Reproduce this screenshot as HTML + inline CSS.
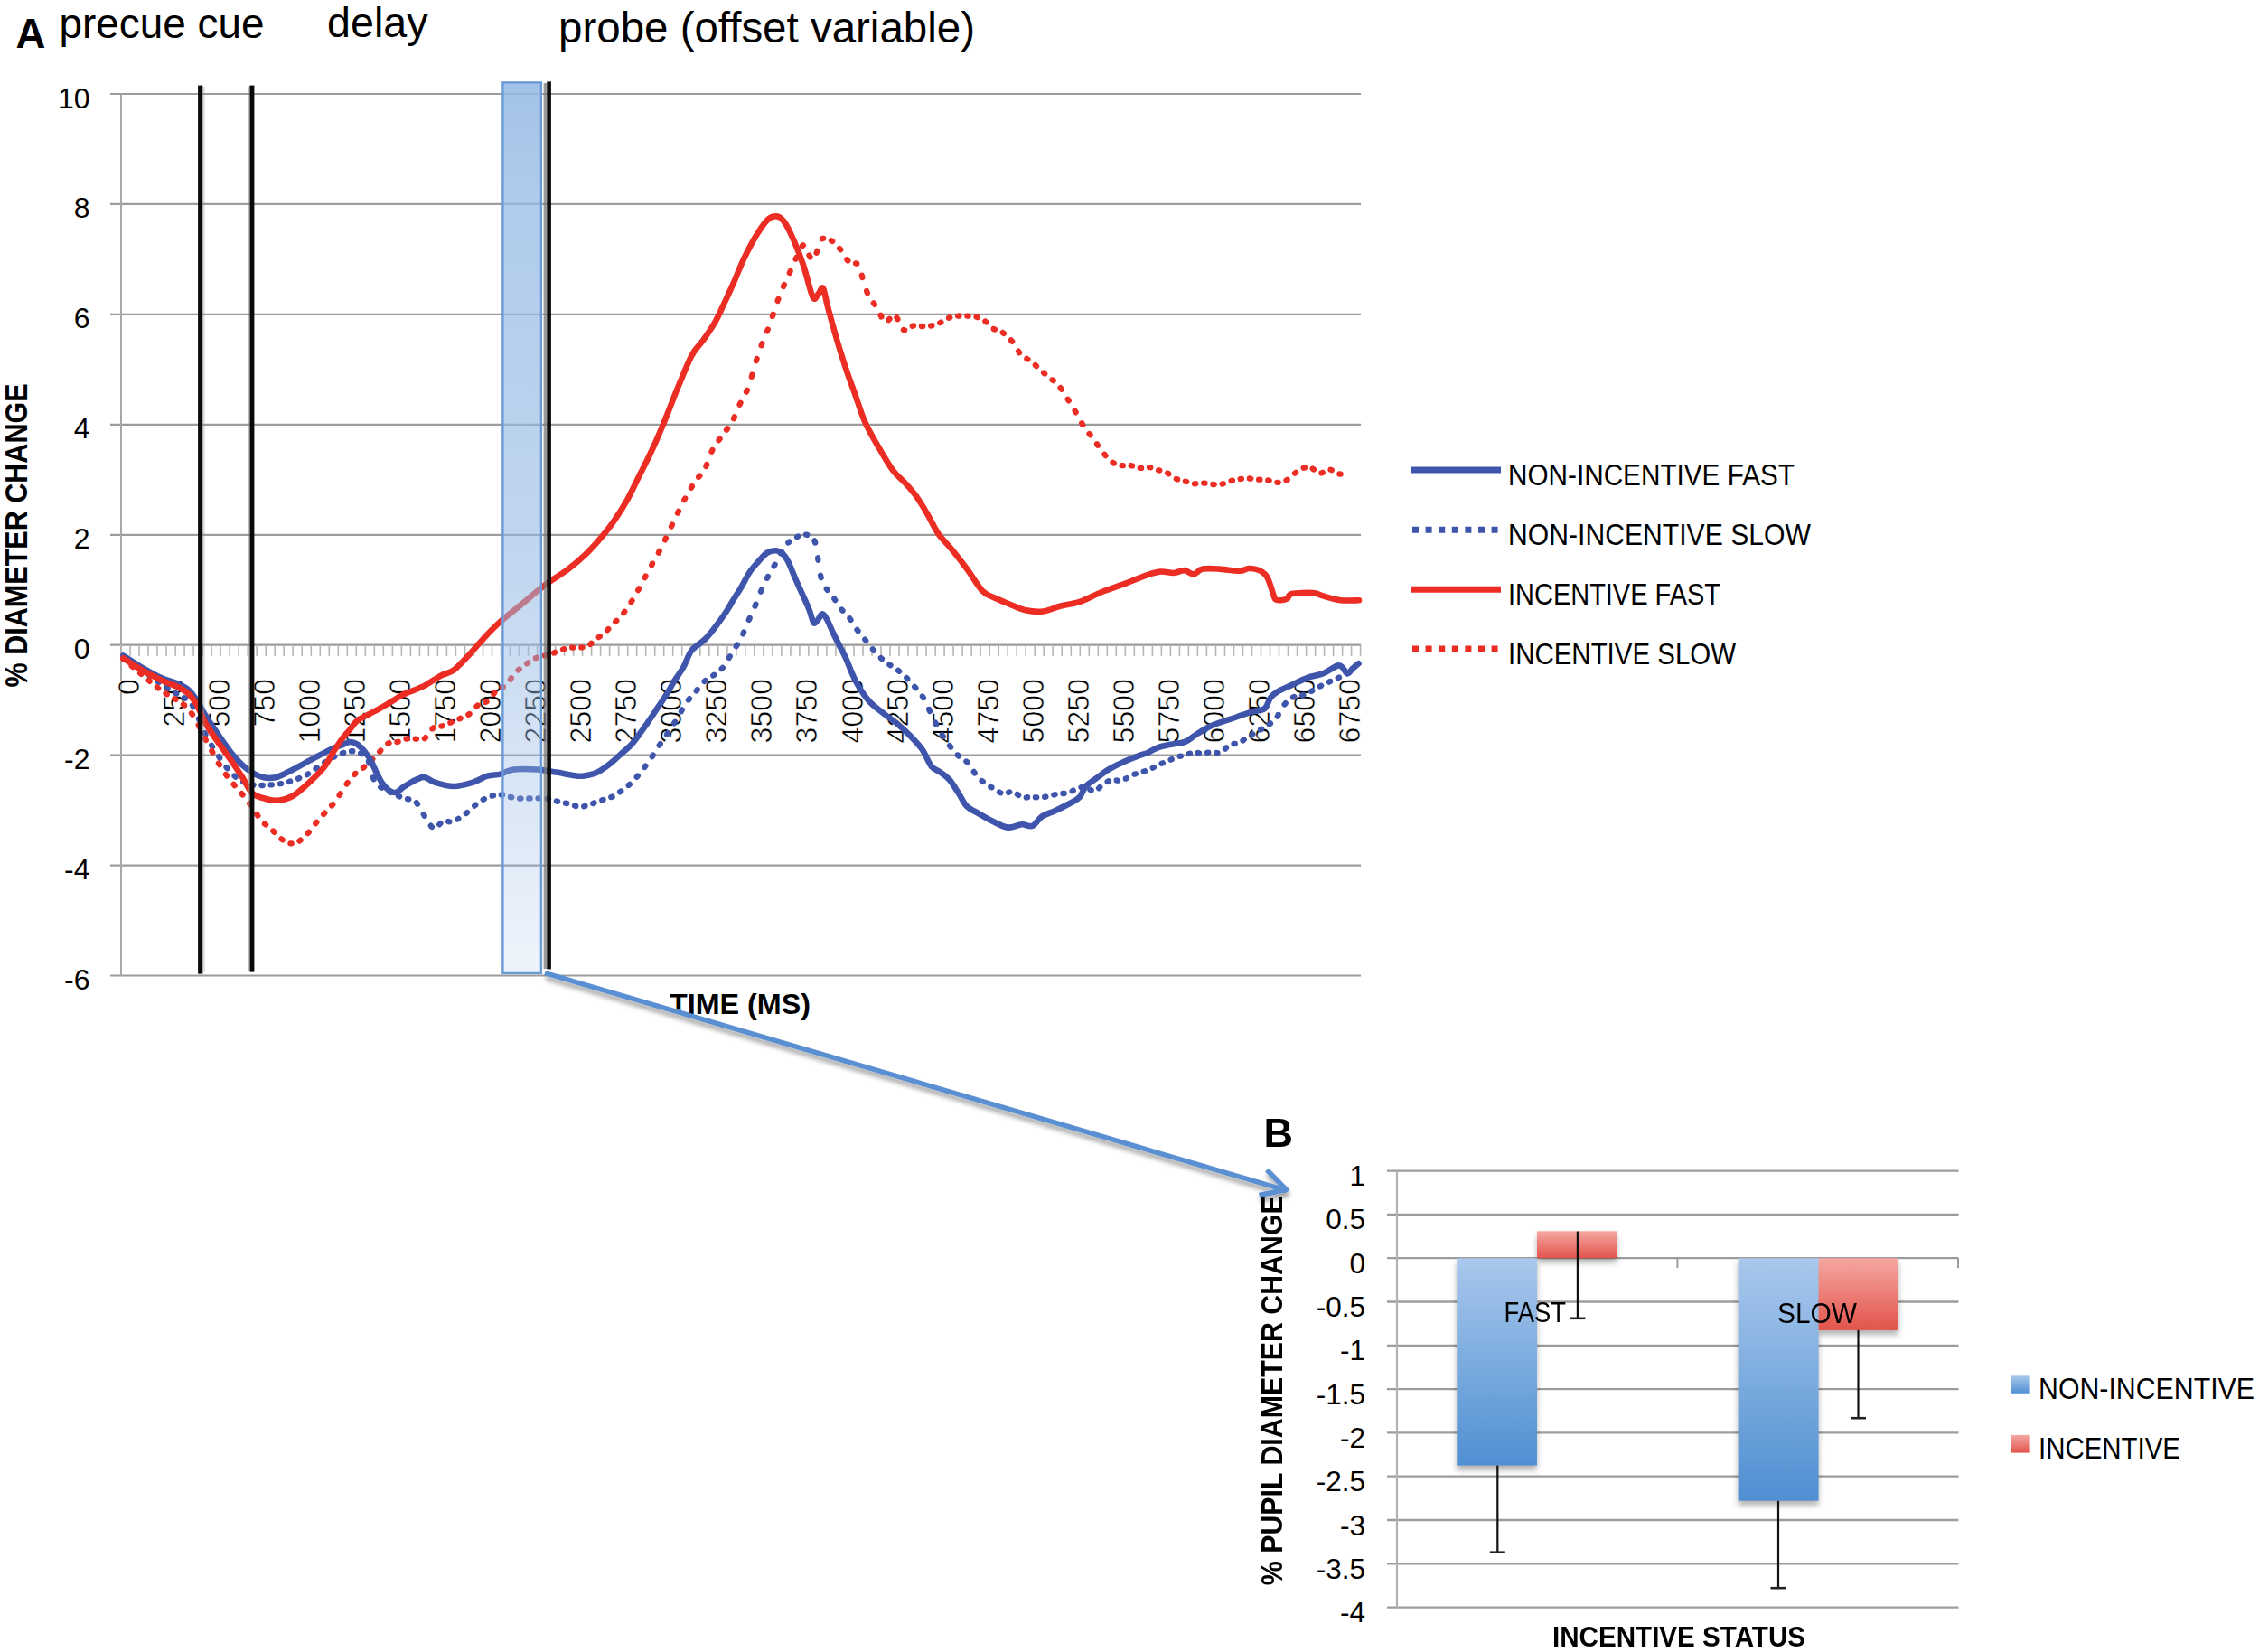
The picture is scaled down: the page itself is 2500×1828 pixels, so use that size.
<!DOCTYPE html><html><head><meta charset="utf-8"><style>html,body{margin:0;padding:0;background:#fff;overflow:hidden;width:2500px;height:1828px;}svg{display:block;}text{font-family:'Liberation Sans', Arial, sans-serif;fill:#000;}</style></head><body>
<svg width="2500" height="1828" viewBox="0 0 2500 1828">
<defs>
<linearGradient id="rectg" x1="0" y1="0" x2="0" y2="1">
<stop offset="0" stop-color="#96bae5" stop-opacity="0.88"/>
<stop offset="0.12" stop-color="#96bae5" stop-opacity="0.76"/>
<stop offset="0.55" stop-color="#96bae5" stop-opacity="0.58"/>
<stop offset="1" stop-color="#96bae5" stop-opacity="0.16"/>
</linearGradient>
<linearGradient id="bblue" x1="0" y1="0" x2="0" y2="1">
<stop offset="0" stop-color="#a9c8ec"/>
<stop offset="1" stop-color="#4f8fd2"/>
</linearGradient>
<linearGradient id="bred" x1="0" y1="0" x2="0" y2="1">
<stop offset="0" stop-color="#f5a7a2"/>
<stop offset="1" stop-color="#e2544b"/>
</linearGradient>
<filter id="shadow" x="-20%" y="-20%" width="140%" height="140%">
<feDropShadow dx="0" dy="5" stdDeviation="3" flood-color="#000" flood-opacity="0.28"/>
</filter>
<filter id="blur3" x="-20%" y="-20%" width="140%" height="140%"><feGaussianBlur stdDeviation="3"/></filter>
<filter id="ashadow" x="-5%" y="-50%" width="110%" height="200%">
<feDropShadow dx="1" dy="5" stdDeviation="2.5" flood-color="#000" flood-opacity="0.35"/>
</filter>
</defs>
<rect width="2500" height="1828" fill="#fff"/>
<line x1="122" y1="104.0" x2="1506.0" y2="104.0" stroke="#9c9c9c" stroke-width="2.2"/>
<line x1="122" y1="225.9" x2="1506.0" y2="225.9" stroke="#9c9c9c" stroke-width="2.2"/>
<line x1="122" y1="347.9" x2="1506.0" y2="347.9" stroke="#9c9c9c" stroke-width="2.2"/>
<line x1="122" y1="469.8" x2="1506.0" y2="469.8" stroke="#9c9c9c" stroke-width="2.2"/>
<line x1="122" y1="591.8" x2="1506.0" y2="591.8" stroke="#9c9c9c" stroke-width="2.2"/>
<line x1="122" y1="713.7" x2="1506.0" y2="713.7" stroke="#9c9c9c" stroke-width="2.2"/>
<line x1="122" y1="835.6" x2="1506.0" y2="835.6" stroke="#9c9c9c" stroke-width="2.2"/>
<line x1="122" y1="957.6" x2="1506.0" y2="957.6" stroke="#9c9c9c" stroke-width="2.2"/>
<line x1="122" y1="1079.5" x2="1506.0" y2="1079.5" stroke="#9c9c9c" stroke-width="2.2"/>
<line x1="134.0" y1="104.0" x2="134.0" y2="1079.5" stroke="#a8a8a8" stroke-width="2"/>
<path d="M134.0,713.7V725.7M144.0,713.7V725.7M154.0,713.7V725.7M164.0,713.7V725.7M174.0,713.7V725.7M184.1,713.7V725.7M194.1,713.7V725.7M204.1,713.7V725.7M214.1,713.7V725.7M224.1,713.7V725.7M234.1,713.7V725.7M244.1,713.7V725.7M254.1,713.7V725.7M264.2,713.7V725.7M274.2,713.7V725.7M284.2,713.7V725.7M294.2,713.7V725.7M304.2,713.7V725.7M314.2,713.7V725.7M324.2,713.7V725.7M334.2,713.7V725.7M344.3,713.7V725.7M354.3,713.7V725.7M364.3,713.7V725.7M374.3,713.7V725.7M384.3,713.7V725.7M394.3,713.7V725.7M404.3,713.7V725.7M414.3,713.7V725.7M424.3,713.7V725.7M434.4,713.7V725.7M444.4,713.7V725.7M454.4,713.7V725.7M464.4,713.7V725.7M474.4,713.7V725.7M484.4,713.7V725.7M494.4,713.7V725.7M504.4,713.7V725.7M514.5,713.7V725.7M524.5,713.7V725.7M534.5,713.7V725.7M544.5,713.7V725.7M554.5,713.7V725.7M564.5,713.7V725.7M574.5,713.7V725.7M584.5,713.7V725.7M594.6,713.7V725.7M604.6,713.7V725.7M614.6,713.7V725.7M624.6,713.7V725.7M634.6,713.7V725.7M644.6,713.7V725.7M654.6,713.7V725.7M664.6,713.7V725.7M674.6,713.7V725.7M684.7,713.7V725.7M694.7,713.7V725.7M704.7,713.7V725.7M714.7,713.7V725.7M724.7,713.7V725.7M734.7,713.7V725.7M744.7,713.7V725.7M754.7,713.7V725.7M764.8,713.7V725.7M774.8,713.7V725.7M784.8,713.7V725.7M794.8,713.7V725.7M804.8,713.7V725.7M814.8,713.7V725.7M824.8,713.7V725.7M834.8,713.7V725.7M844.9,713.7V725.7M854.9,713.7V725.7M864.9,713.7V725.7M874.9,713.7V725.7M884.9,713.7V725.7M894.9,713.7V725.7M904.9,713.7V725.7M914.9,713.7V725.7M924.9,713.7V725.7M935.0,713.7V725.7M945.0,713.7V725.7M955.0,713.7V725.7M965.0,713.7V725.7M975.0,713.7V725.7M985.0,713.7V725.7M995.0,713.7V725.7M1005.0,713.7V725.7M1015.1,713.7V725.7M1025.1,713.7V725.7M1035.1,713.7V725.7M1045.1,713.7V725.7M1055.1,713.7V725.7M1065.1,713.7V725.7M1075.1,713.7V725.7M1085.1,713.7V725.7M1095.2,713.7V725.7M1105.2,713.7V725.7M1115.2,713.7V725.7M1125.2,713.7V725.7M1135.2,713.7V725.7M1145.2,713.7V725.7M1155.2,713.7V725.7M1165.2,713.7V725.7M1175.2,713.7V725.7M1185.3,713.7V725.7M1195.3,713.7V725.7M1205.3,713.7V725.7M1215.3,713.7V725.7M1225.3,713.7V725.7M1235.3,713.7V725.7M1245.3,713.7V725.7M1255.3,713.7V725.7M1265.4,713.7V725.7M1275.4,713.7V725.7M1285.4,713.7V725.7M1295.4,713.7V725.7M1305.4,713.7V725.7M1315.4,713.7V725.7M1325.4,713.7V725.7M1335.4,713.7V725.7M1345.5,713.7V725.7M1355.5,713.7V725.7M1365.5,713.7V725.7M1375.5,713.7V725.7M1385.5,713.7V725.7M1395.5,713.7V725.7M1405.5,713.7V725.7M1415.5,713.7V725.7M1425.5,713.7V725.7M1435.6,713.7V725.7M1445.6,713.7V725.7M1455.6,713.7V725.7M1465.6,713.7V725.7M1475.6,713.7V725.7M1485.6,713.7V725.7M1495.6,713.7V725.7M1505.6,713.7V725.7" stroke="#b4b4b4" stroke-width="1.6" fill="none"/>
<text x="99.5" y="119.5" font-size="32.0" text-anchor="end" font-weight="normal">10</text>
<text x="99.5" y="241.4" font-size="32.0" text-anchor="end" font-weight="normal">8</text>
<text x="99.5" y="363.4" font-size="32.0" text-anchor="end" font-weight="normal">6</text>
<text x="99.5" y="485.3" font-size="32.0" text-anchor="end" font-weight="normal">4</text>
<text x="99.5" y="607.3" font-size="32.0" text-anchor="end" font-weight="normal">2</text>
<text x="99.5" y="729.2" font-size="32.0" text-anchor="end" font-weight="normal">0</text>
<text x="99.5" y="851.1" font-size="32.0" text-anchor="end" font-weight="normal">-2</text>
<text x="99.5" y="973.1" font-size="32.0" text-anchor="end" font-weight="normal">-4</text>
<text x="99.5" y="1095.0" font-size="32.0" text-anchor="end" font-weight="normal">-6</text>
<text transform="translate(153.5,751) rotate(-90)" font-size="32.7" text-anchor="end" textLength="17.9" lengthAdjust="spacingAndGlyphs" stroke="#fff" stroke-width="0.6">0</text>
<text transform="translate(203.6,751) rotate(-90)" font-size="32.7" text-anchor="end" textLength="53.6" lengthAdjust="spacingAndGlyphs" stroke="#fff" stroke-width="0.6">250</text>
<text transform="translate(253.6,751) rotate(-90)" font-size="32.7" text-anchor="end" textLength="53.6" lengthAdjust="spacingAndGlyphs" stroke="#fff" stroke-width="0.6">500</text>
<text transform="translate(303.7,751) rotate(-90)" font-size="32.7" text-anchor="end" textLength="53.6" lengthAdjust="spacingAndGlyphs" stroke="#fff" stroke-width="0.6">750</text>
<text transform="translate(353.7,751) rotate(-90)" font-size="32.7" text-anchor="end" textLength="71.4" lengthAdjust="spacingAndGlyphs" stroke="#fff" stroke-width="0.6">1000</text>
<text transform="translate(403.8,751) rotate(-90)" font-size="32.7" text-anchor="end" textLength="71.4" lengthAdjust="spacingAndGlyphs" stroke="#fff" stroke-width="0.6">1250</text>
<text transform="translate(453.9,751) rotate(-90)" font-size="32.7" text-anchor="end" textLength="71.4" lengthAdjust="spacingAndGlyphs" stroke="#fff" stroke-width="0.6">1500</text>
<text transform="translate(503.9,751) rotate(-90)" font-size="32.7" text-anchor="end" textLength="71.4" lengthAdjust="spacingAndGlyphs" stroke="#fff" stroke-width="0.6">1750</text>
<text transform="translate(554.0,751) rotate(-90)" font-size="32.7" text-anchor="end" textLength="71.4" lengthAdjust="spacingAndGlyphs" stroke="#fff" stroke-width="0.6">2000</text>
<text transform="translate(604.0,751) rotate(-90)" font-size="32.7" text-anchor="end" textLength="71.4" lengthAdjust="spacingAndGlyphs" stroke="#fff" stroke-width="0.6">2250</text>
<text transform="translate(654.1,751) rotate(-90)" font-size="32.7" text-anchor="end" textLength="71.4" lengthAdjust="spacingAndGlyphs" stroke="#fff" stroke-width="0.6">2500</text>
<text transform="translate(704.2,751) rotate(-90)" font-size="32.7" text-anchor="end" textLength="71.4" lengthAdjust="spacingAndGlyphs" stroke="#fff" stroke-width="0.6">2750</text>
<text transform="translate(754.2,751) rotate(-90)" font-size="32.7" text-anchor="end" textLength="71.4" lengthAdjust="spacingAndGlyphs" stroke="#fff" stroke-width="0.6">3000</text>
<text transform="translate(804.3,751) rotate(-90)" font-size="32.7" text-anchor="end" textLength="71.4" lengthAdjust="spacingAndGlyphs" stroke="#fff" stroke-width="0.6">3250</text>
<text transform="translate(854.3,751) rotate(-90)" font-size="32.7" text-anchor="end" textLength="71.4" lengthAdjust="spacingAndGlyphs" stroke="#fff" stroke-width="0.6">3500</text>
<text transform="translate(904.4,751) rotate(-90)" font-size="32.7" text-anchor="end" textLength="71.4" lengthAdjust="spacingAndGlyphs" stroke="#fff" stroke-width="0.6">3750</text>
<text transform="translate(954.5,751) rotate(-90)" font-size="32.7" text-anchor="end" textLength="71.4" lengthAdjust="spacingAndGlyphs" stroke="#fff" stroke-width="0.6">4000</text>
<text transform="translate(1004.5,751) rotate(-90)" font-size="32.7" text-anchor="end" textLength="71.4" lengthAdjust="spacingAndGlyphs" stroke="#fff" stroke-width="0.6">4250</text>
<text transform="translate(1054.6,751) rotate(-90)" font-size="32.7" text-anchor="end" textLength="71.4" lengthAdjust="spacingAndGlyphs" stroke="#fff" stroke-width="0.6">4500</text>
<text transform="translate(1104.6,751) rotate(-90)" font-size="32.7" text-anchor="end" textLength="71.4" lengthAdjust="spacingAndGlyphs" stroke="#fff" stroke-width="0.6">4750</text>
<text transform="translate(1154.7,751) rotate(-90)" font-size="32.7" text-anchor="end" textLength="71.4" lengthAdjust="spacingAndGlyphs" stroke="#fff" stroke-width="0.6">5000</text>
<text transform="translate(1204.8,751) rotate(-90)" font-size="32.7" text-anchor="end" textLength="71.4" lengthAdjust="spacingAndGlyphs" stroke="#fff" stroke-width="0.6">5250</text>
<text transform="translate(1254.8,751) rotate(-90)" font-size="32.7" text-anchor="end" textLength="71.4" lengthAdjust="spacingAndGlyphs" stroke="#fff" stroke-width="0.6">5500</text>
<text transform="translate(1304.9,751) rotate(-90)" font-size="32.7" text-anchor="end" textLength="71.4" lengthAdjust="spacingAndGlyphs" stroke="#fff" stroke-width="0.6">5750</text>
<text transform="translate(1354.9,751) rotate(-90)" font-size="32.7" text-anchor="end" textLength="71.4" lengthAdjust="spacingAndGlyphs" stroke="#fff" stroke-width="0.6">6000</text>
<text transform="translate(1405.0,751) rotate(-90)" font-size="32.7" text-anchor="end" textLength="71.4" lengthAdjust="spacingAndGlyphs" stroke="#fff" stroke-width="0.6">6250</text>
<text transform="translate(1455.1,751) rotate(-90)" font-size="32.7" text-anchor="end" textLength="71.4" lengthAdjust="spacingAndGlyphs" stroke="#fff" stroke-width="0.6">6500</text>
<text transform="translate(1505.1,751) rotate(-90)" font-size="32.7" text-anchor="end" textLength="71.4" lengthAdjust="spacingAndGlyphs" stroke="#fff" stroke-width="0.6">6750</text>
<path d="M136.3,726.0L137.4,726.8L137.5,726.9M145.9,733.0L147.1,733.9M155.4,740.1L156.7,741.0M165.0,747.1L166.2,748.0M174.6,754.1L175.6,754.8L175.8,754.9M184.2,760.9L185.0,761.4L185.5,761.7M194.0,766.9L194.2,767.0L195.2,767.6M203.8,772.1L204.4,772.4L205.1,772.8M213.0,780.6L213.2,780.8L213.5,781.4L213.8,781.9L214.0,782.3M220.0,795.4L220.2,795.8L220.7,796.9L220.9,797.4M226.6,811.0L226.8,811.6L227.3,812.6L227.5,812.9M234.1,824.8L234.3,825.2L234.8,825.9L235.1,826.3M242.2,837.1L242.5,837.6L242.9,838.2L243.2,838.7M250.5,849.0L250.6,849.2L251.1,849.8L251.6,850.3M259.5,858.6L260.0,859.0L260.7,859.6L260.7,859.6M269.1,865.1L269.4,865.2L270.0,865.5L270.4,865.7M279.2,868.3L279.5,868.4L280.3,868.5L280.5,868.6M289.4,869.0L289.5,869.0L290.4,869.0L290.7,869.0M299.6,868.4L300.0,868.4L300.8,868.3L300.9,868.3M309.8,867.3L310.2,867.2L311.0,867.1L311.1,867.1M319.9,865.0L320.6,864.8L321.2,864.6M330.0,861.6L330.2,861.5L331.1,861.2L331.2,861.1M339.9,857.1L340.1,857.0L340.9,856.6L341.2,856.4M349.5,850.4L349.8,850.2L350.4,849.7L350.7,849.5M359.2,843.8L359.7,843.5L360.4,843.0M368.9,838.0L369.5,837.7L370.2,837.3M378.9,833.4L379.4,833.2L380.1,833.0L380.2,833.0M389.0,831.2L389.5,831.2L390.1,831.2L390.3,831.2M399.1,833.6L399.2,833.6L399.6,833.8L400.0,834.0L400.4,834.2L400.4,834.2M407.9,842.4L408.2,843.3L408.5,844.3L408.6,844.6M412.8,860.2L413.0,860.6L413.3,861.6L413.6,862.3M421.2,871.0L421.2,871.0L421.7,871.3L422.2,871.6L422.4,871.7M431.0,876.3L431.2,876.4L431.8,876.7L432.3,876.9M441.0,880.9L441.3,881.0L441.8,881.2L442.2,881.4L442.2,881.4M451.0,884.1L451.4,884.2L451.9,884.3L452.3,884.4L452.3,884.4M460.9,888.2L461.2,888.5L461.5,888.9L461.8,889.4L462.0,889.7M468.8,901.1L469.3,901.9L469.8,902.7L469.8,902.8M476.8,913.7L477.2,914.2L477.7,914.8L478.0,915.0M486.3,912.3L486.6,911.9L487.1,911.4L487.4,911.0M496.1,909.1L496.4,909.2L496.8,909.2L497.2,909.3L497.4,909.3M506.2,906.6L506.3,906.5L506.7,906.3L507.1,906.1L507.4,905.9M515.8,900.1L515.9,900.0L516.3,899.7L516.7,899.4L517.0,899.1M525.1,891.7L525.3,891.6L525.7,891.1L526.1,890.7L526.3,890.6M534.7,884.8L534.8,884.7L535.2,884.5L535.6,884.3L535.9,884.2M544.7,880.7L544.8,880.7L545.2,880.5L545.6,880.4L546.0,880.3M554.8,879.4L554.9,879.4L555.3,879.4L555.7,879.5L556.0,879.5L556.1,879.5M564.9,881.9L565.0,881.9L565.4,882.1L565.9,882.2L566.2,882.3M575.1,883.6L575.4,883.6L575.8,883.6L576.2,883.6L576.4,883.5M585.3,883.4L585.7,883.4L586.1,883.4L586.5,883.4L586.6,883.4M595.5,883.3L595.6,883.3L596.0,883.3L596.5,883.3L596.8,883.3M605.7,883.8L605.8,883.8L606.1,883.8L606.5,883.9L606.8,883.9L607.0,884.0M615.8,886.4L616.1,886.5L616.5,886.6L617.0,886.8L617.1,886.8M625.9,888.7L626.0,888.7L626.5,888.8L626.9,888.9L627.2,888.9M636.0,891.6L636.3,891.7L636.7,891.9L637.1,892.0L637.3,892.0M646.2,892.3L646.4,892.2L646.9,892.1L647.4,892.0L647.5,892.0M656.2,889.1L656.3,889.1L656.6,888.9L657.0,888.7L657.3,888.5L657.5,888.4M666.2,885.4L666.6,885.3L667.0,885.2L667.4,885.1L667.5,885.0M676.3,882.1L676.6,882.0L677.0,881.8L677.4,881.7L677.6,881.6M686.1,876.3L686.3,876.1L686.7,875.8L687.2,875.4L687.3,875.4M695.6,868.9L695.6,868.8L696.0,868.5L696.4,868.2L696.8,867.9M704.7,859.8L704.8,859.7L705.2,859.2L705.6,858.7L705.8,858.5M713.3,849.0L713.6,848.6L714.0,848.1L714.4,847.5M721.7,837.2L721.7,837.2L722.1,836.5L722.5,835.9L722.7,835.7M729.7,824.7L729.8,824.6L730.2,824.0L730.6,823.5L730.8,823.1M738.0,812.7L738.2,812.3L738.6,811.7L739.0,811.1M746.1,800.3L746.2,800.2L746.6,799.5L747.1,798.7L747.1,798.7M753.9,787.2L754.0,786.9L754.4,786.1L754.8,785.4M761.9,774.5L762.1,774.3L762.5,773.8L762.8,773.4L763.0,773.2M770.7,764.5L770.8,764.4L771.3,763.8L771.8,763.2L771.8,763.1M779.5,754.1L779.9,753.7L780.4,753.3L780.7,753.0M789.2,747.5L789.5,747.3L789.9,747.0L790.4,746.7L790.4,746.7M798.6,740.1L798.9,739.8L799.3,739.4L799.7,739.0L799.8,738.9M806.8,728.0L807.0,727.7L807.4,727.0L807.8,726.3L807.8,726.3M814.7,715.2L815.1,714.6L815.5,713.9L815.8,713.6M822.3,701.5L822.4,701.1L822.8,700.3L823.1,699.5M828.8,685.9L829.0,685.5L829.4,684.6L829.7,683.9M835.6,670.6L835.7,670.4L836.0,669.7L836.3,669.0L836.4,668.6M841.9,654.6L842.2,654.1L842.5,653.4L842.8,652.7M848.9,639.8L849.3,639.2L849.7,638.5L849.9,638.0M856.6,626.4L856.9,625.9L857.3,625.2L857.6,624.7M864.1,612.5L864.4,611.9L864.9,611.0L865.1,610.8M872.3,600.5L872.7,600.2L873.1,599.8L873.5,599.5M882.0,594.2L882.2,594.1L882.7,593.9L883.2,593.6L883.2,593.6M892.0,591.6L892.2,591.6L892.6,591.7L893.1,591.8L893.3,591.9M901.4,598.4L901.5,598.5L901.8,599.1L902.0,599.7L902.2,600.3L902.2,600.5M905.1,617.3L905.2,617.9L905.3,618.5L905.3,619.2L905.4,619.8M908.1,636.8L908.2,637.0L908.3,637.6L908.4,638.3L908.5,639.0L908.6,639.2M914.7,651.6L914.7,651.7L915.1,652.1L915.6,652.6L915.8,652.9M923.3,662.5L923.5,662.9L923.9,663.5L924.3,664.1M931.5,674.5L931.6,674.6L932.0,675.0L932.4,675.5L932.6,675.7M940.4,684.4L940.5,684.6L940.9,685.1L941.3,685.7L941.5,685.9M948.5,696.8L948.5,696.8L949.0,697.4L949.4,698.0L949.6,698.2M957.2,707.5L957.6,708.1L958.1,708.6L958.3,708.9M965.8,718.4L965.9,718.6L966.3,719.1L966.7,719.6L966.9,719.8M974.8,728.0L974.9,728.2L975.4,728.6L975.8,729.0L976.0,729.1M984.3,735.5L984.6,735.6L985.0,735.9L985.5,736.2L985.5,736.2M994.0,741.9L994.1,742.0L994.5,742.3L994.9,742.6L995.2,742.8M1003.3,750.1L1003.5,750.3L1003.9,750.8L1004.4,751.2L1004.4,751.3M1012.2,759.9L1012.4,760.1L1012.8,760.6L1013.2,761.0L1013.4,761.2M1020.9,770.5L1021.2,771.0L1021.6,771.6L1021.9,772.2M1028.1,785.0L1028.1,785.1L1028.3,785.5L1028.5,785.9L1028.7,786.3L1028.9,786.6L1029.0,786.9M1035.2,799.6L1035.3,799.8L1035.7,800.6L1036.1,801.4L1036.1,801.5M1042.7,813.3L1042.8,813.5L1043.2,814.1L1043.7,814.8L1043.8,814.9M1051.0,825.2L1051.1,825.3L1051.5,825.8L1052.0,826.4L1052.1,826.6M1059.8,835.5L1059.9,835.5L1060.3,835.9L1060.8,836.4L1061.0,836.6M1069.4,842.5L1069.8,842.8L1070.2,843.2L1070.6,843.6L1070.6,843.6M1077.8,853.9L1078.0,854.2L1078.3,854.8L1078.7,855.3L1078.8,855.5M1086.6,864.0L1087.0,864.3L1087.4,864.6L1087.8,865.0L1087.8,865.0M1096.3,870.7L1096.4,870.7L1096.8,871.0L1097.2,871.2L1097.5,871.3M1106.0,876.6L1106.3,876.8L1106.7,877.0L1107.1,877.2L1107.3,877.3M1116.1,876.9L1116.3,876.8L1116.8,876.6L1117.3,876.4L1117.3,876.4M1125.9,878.9L1126.1,879.0L1126.5,879.4L1126.9,879.8L1127.1,880.0M1135.8,882.5L1136.1,882.4L1136.5,882.3L1137.0,882.2L1137.1,882.2M1145.9,882.2L1146.3,882.2L1146.7,882.3L1147.2,882.3L1147.2,882.3M1156.1,881.9L1156.5,881.8L1157.0,881.7L1157.4,881.6L1157.4,881.6M1166.3,879.5L1166.3,879.5L1166.7,879.4L1167.2,879.3L1167.6,879.2M1176.4,878.0L1176.5,878.0L1176.9,878.0L1177.4,878.0L1177.7,878.0M1186.5,875.3L1186.5,875.2L1186.9,875.0L1187.3,874.8L1187.7,874.6L1187.7,874.6M1196.5,871.2L1196.7,871.1L1197.1,871.0L1197.6,870.9L1197.8,870.9M1206.4,873.8L1206.6,873.9L1207.0,874.2L1207.4,874.5L1207.7,874.6M1216.1,872.3L1216.2,872.2L1216.6,871.8L1217.0,871.4L1217.3,871.0M1225.6,865.0L1226.0,864.8L1226.4,864.6L1226.8,864.4L1226.9,864.3M1235.7,863.4L1235.8,863.4L1236.2,863.5L1236.6,863.6L1237.0,863.7M1245.8,861.7L1245.9,861.7L1246.3,861.4L1246.7,861.2L1247.0,861.0M1255.6,856.7L1255.7,856.7L1256.1,856.5L1256.5,856.4L1256.9,856.2M1265.7,853.6L1265.8,853.6L1266.2,853.5L1266.6,853.4L1267.0,853.3L1267.0,853.3M1275.7,849.7L1276.1,849.5L1276.5,849.2L1276.9,849.0L1276.9,849.0M1285.6,844.8L1285.6,844.8L1286.0,844.6L1286.5,844.5L1286.9,844.3M1295.6,840.7L1296.0,840.5L1296.4,840.3L1296.8,840.1L1296.8,840.1M1305.6,836.9L1306.0,836.8L1306.4,836.7L1306.8,836.6L1306.9,836.6M1315.7,834.1L1316.0,834.0L1316.4,833.9L1316.8,833.7L1317.0,833.7M1325.8,833.0L1325.9,833.0L1326.3,833.1L1326.7,833.1L1327.1,833.2M1336.0,832.8L1336.2,832.7L1336.6,832.7L1337.0,832.6L1337.3,832.6M1346.2,833.0L1346.5,833.1L1347.0,833.1L1347.4,833.2L1347.5,833.2M1355.9,828.7L1356.0,828.5L1356.4,828.1L1356.8,827.6L1357.0,827.4M1365.5,823.0L1365.7,823.0L1366.1,823.0L1366.5,823.0L1366.8,823.0M1375.5,819.4L1375.7,819.2L1376.1,818.9L1376.5,818.6L1376.7,818.4M1385.2,813.1L1385.2,813.0L1385.7,812.8L1386.1,812.6L1386.4,812.4M1395.0,807.5L1395.1,807.5L1395.5,807.2L1395.9,807.0L1396.2,806.8M1404.7,801.4L1404.8,801.3L1405.3,801.0L1405.7,800.7L1406.0,800.6M1413.8,792.6L1414.0,792.3L1414.4,791.7L1414.8,791.0L1414.8,790.9M1421.6,779.5L1421.7,779.4L1422.1,778.9L1422.5,778.4L1422.7,778.2M1431.0,771.6L1431.3,771.5L1431.7,771.3L1432.2,771.2L1432.3,771.1M1441.1,769.5L1441.2,769.4L1441.6,769.3L1442.1,769.1L1442.4,769.0M1451.1,765.0L1451.2,764.9L1451.6,764.7L1452.1,764.4L1452.3,764.3M1460.9,759.5L1461.1,759.4L1461.5,759.1L1462.0,758.9L1462.1,758.8M1470.8,754.6L1471.1,754.4L1471.6,754.2L1472.0,754.0L1472.1,754.0M1480.7,750.2L1481.1,750.0L1481.5,749.8L1482.0,749.6L1482.0,749.6M1490.6,745.1L1491.1,744.9L1491.5,744.6L1491.9,744.4" fill="none" stroke="#3e55ab" stroke-width="6.3" stroke-linecap="round" stroke-linejoin="round"/>
<path d="M136.3,729.0L137.2,729.8L137.5,730.0M145.7,736.9L146.9,738.0M155.1,744.9L156.3,745.9M164.5,752.8L164.7,752.9L165.7,753.7M173.9,760.4L174.0,760.5L175.2,761.4M183.5,767.4L184.5,768.1L184.8,768.2M193.3,773.2L194.1,773.7L194.6,773.9M203.0,779.6L204.1,780.5L204.2,780.5M212.0,789.2L213.0,790.7L213.0,790.7M219.7,802.4L220.6,804.2L220.6,804.3M226.8,817.0L227.4,818.2L227.8,818.9M234.3,830.9L234.6,831.3L235.3,832.6M241.9,844.6L242.2,845.0L242.9,846.2L242.9,846.2M249.9,857.0L250.5,857.7L251.0,858.5M258.6,867.8L258.6,867.8L259.6,868.9L259.7,869.1M267.4,878.1L267.8,878.6L268.5,879.4L268.5,879.4M276.1,889.0L276.3,889.3L276.7,889.8L277.1,890.3L277.1,890.4M284.3,901.0L284.6,901.6L285.0,902.2L285.3,902.6M292.9,911.6L293.1,911.7L293.6,912.1L294.0,912.4L294.2,912.5M302.3,919.5L302.4,919.6L302.8,920.1L303.2,920.5L303.5,920.8M311.5,928.4L311.9,928.7L312.3,929.0L312.7,929.3M321.4,933.3L321.4,933.3L321.8,933.3L322.3,933.3L322.7,933.3M331.4,930.6L331.5,930.5L331.9,930.2L332.3,930.0L332.6,929.7M340.7,922.1L341.1,921.7L341.5,921.2L341.8,920.8M349.3,911.2L349.6,910.9L350.0,910.4L350.4,909.9M358.1,901.0L358.1,901.0L358.6,900.5L359.0,900.0L359.3,899.7M367.1,891.4L367.3,891.3L367.7,890.8L368.1,890.4L368.3,890.2M375.6,880.0L376.0,879.4L376.4,878.8L376.6,878.4M383.7,867.6L383.8,867.5L384.2,866.8L384.6,866.2L384.7,866.0M392.3,857.0L392.6,856.7L393.0,856.4L393.5,856.1L393.5,856.0M401.9,849.7L402.3,849.3L402.7,849.0L403.1,848.7M411.1,841.3L411.5,840.9L411.9,840.5L412.3,840.1M420.2,831.8L420.4,831.6L420.8,831.2L421.2,830.7L421.3,830.6M429.3,822.7L429.3,822.7L429.7,822.5L430.1,822.3L430.5,822.1L430.5,822.1M439.4,821.0L439.5,821.0L439.9,820.9L440.4,820.8L440.7,820.7M449.5,817.6L449.7,817.6L450.1,817.5L450.5,817.5L450.8,817.5M459.7,817.6L459.8,817.6L460.2,817.6L460.6,817.6L461.0,817.7M469.8,817.2L469.8,817.2L470.2,816.9L470.7,816.5L471.0,816.1M478.4,806.4L478.4,806.3L478.8,805.9L479.3,805.5L479.6,805.3M488.4,803.6L488.8,803.5L489.4,803.3L489.7,803.2M498.4,799.8L498.8,799.6L499.7,799.2M508.4,795.4L508.9,795.2L509.5,794.9L509.6,794.8M518.3,790.8L518.6,790.7L519.0,790.4L519.4,790.1L519.5,790.0M527.4,781.8L527.4,781.8L527.9,781.3L528.3,780.9L528.6,780.6M537.3,776.9L537.4,776.9L537.9,776.7L538.3,776.5L538.5,776.4M546.3,767.9L546.5,767.6L546.9,767.1L547.2,766.6L547.3,766.5M555.7,760.7L556.1,760.5L556.5,760.3L556.9,760.1L557.0,760.1M564.8,751.8L565.1,751.3L565.5,750.7L565.8,750.3M573.5,741.4L573.6,741.3L574.1,741.0L574.5,740.7L574.7,740.5M583.1,734.3L583.1,734.3L583.5,734.0L583.9,733.7L584.3,733.4M592.8,728.2L593.0,728.2L593.4,728.0L593.8,727.9L594.1,727.8M602.9,725.5L603.2,725.5L603.5,725.4L603.8,725.3L604.2,725.2L604.2,725.2M613.0,722.5L613.0,722.5L613.4,722.3L613.9,722.1L614.2,721.9M623.0,718.6L623.0,718.6L623.5,718.4L623.9,718.3L624.3,718.2M633.1,716.5L633.3,716.5L633.8,716.6L634.2,716.6L634.4,716.6M643.3,716.4L643.7,716.4L644.1,716.3L644.5,716.3L644.6,716.3M653.3,712.9L653.6,712.7L654.0,712.4L654.4,712.1L654.5,711.9M662.7,705.1L663.1,704.8L663.5,704.5L663.9,704.2L663.9,704.1M672.1,697.2L672.1,697.2L672.6,696.8L673.0,696.4L673.3,696.1M681.2,687.9L681.6,687.5L682.0,687.1L682.4,686.8M690.2,678.2L690.2,678.1L690.6,677.6L691.0,677.1L691.3,676.8M698.5,666.3L698.7,666.0L699.0,665.4L699.4,664.8L699.5,664.7M706.2,653.1L706.4,652.8L706.8,652.0L707.2,651.3L707.2,651.3M713.7,639.2L713.7,639.2L714.1,638.4L714.5,637.7L714.6,637.4M721.2,625.3L721.3,625.1L721.7,624.4L722.1,623.7L722.1,623.6M728.8,611.7L728.9,611.4L729.3,610.6L729.7,609.9M736.0,597.4L736.2,596.9L736.6,596.1L736.9,595.5M743.0,582.5L743.0,582.5L743.4,581.6L743.8,580.8L743.9,580.6M750.0,567.6L750.2,567.2L750.6,566.4L750.9,565.8M757.2,553.2L757.4,552.8L757.9,552.0L758.2,551.5M764.9,539.8L765.1,539.5L765.5,538.7L765.9,538.2M773.1,527.9L773.4,527.5L773.9,527.0L774.3,526.6M781.4,516.0L781.7,515.3L782.1,514.4L782.2,514.0M787.5,499.8L787.7,499.4L788.1,498.6L788.4,497.9M795.5,487.1L796.0,486.5L796.5,485.8L796.6,485.7M804.0,475.7L804.3,475.4L804.7,474.8L805.1,474.3M812.0,463.2L812.3,462.6L812.6,461.8L812.8,461.3M818.6,447.7L818.7,447.6L819.0,446.9L819.4,446.1L819.5,445.9M826.0,433.6L826.2,433.3L826.5,432.5L826.9,431.7M831.8,416.9L831.8,416.9L832.1,415.8L832.3,414.8L832.4,414.6M836.9,399.3L837.0,398.9L837.2,398.2L837.4,397.6L837.6,397.0M842.6,382.3L842.7,382.0L843.0,381.3L843.3,380.6L843.4,380.3M849.0,366.5L849.1,366.1L849.3,365.7L849.5,365.2L849.7,364.7L849.8,364.5M854.9,349.9L855.0,349.9L855.2,349.2L855.4,348.6L855.6,347.9L855.7,347.7M860.6,332.9L860.7,332.6L860.9,332.0L861.2,331.4L861.4,330.9M867.0,317.0L867.1,316.8L867.3,316.4L867.5,316.0L867.7,315.6L867.8,315.3L867.9,315.2M873.8,302.0L873.9,301.8L874.2,301.1L874.5,300.4L874.6,299.9M880.6,286.7L880.6,286.7L880.9,286.3L881.1,285.8L881.4,285.3L881.5,284.9M887.7,272.3L887.8,272.1L888.2,271.8L888.6,271.6L888.9,271.4L888.9,271.4M895.5,282.5L895.6,282.7L896.0,283.5L896.4,284.3L896.5,284.4M903.6,279.8L903.7,279.5L904.0,278.8L904.3,278.1L904.4,277.7M909.9,264.2L910.2,264.0L910.5,263.9L910.9,263.8L911.2,263.8M920.0,266.2L920.2,266.3L920.6,266.6L921.1,266.9L921.2,267.0M929.1,275.0L929.3,275.1L929.7,275.6L930.1,276.1L930.3,276.3M937.3,287.2L937.3,287.3L937.7,287.8L938.1,288.3L938.4,288.6M947.0,291.4L947.3,291.5L947.8,291.5L948.2,291.7L948.3,291.7M953.8,304.7L953.9,305.1L954.1,305.9L954.3,306.7L954.4,307.0M959.1,322.1L959.2,322.4L959.5,323.0L959.7,323.7L959.9,324.1M966.8,335.3L967.0,335.6L967.4,336.2L967.9,336.8L967.9,336.8M974.5,348.7L974.6,348.9L975.0,349.7L975.4,350.5M983.4,354.2L983.7,353.8L984.1,353.3L984.5,352.8M992.4,351.4L992.5,351.5L992.9,352.3L993.3,353.1L993.4,353.2M999.9,365.0L1000.1,365.1L1000.6,365.2L1001.0,365.3L1001.2,365.3M1009.7,360.8L1009.7,360.8L1010.2,360.6L1010.6,360.5L1011.0,360.4M1019.9,361.0L1020.3,361.0L1020.7,361.0L1021.1,361.0L1021.2,361.0M1030.1,360.5L1030.4,360.4L1030.9,360.3L1031.3,360.2L1031.4,360.2M1040.2,357.2L1040.4,357.1L1040.8,356.9L1041.2,356.7L1041.4,356.6M1050.0,351.8L1050.1,351.8L1050.5,351.6L1050.9,351.5L1051.3,351.3M1060.1,349.6L1060.2,349.6L1060.6,349.6L1061.0,349.5L1061.4,349.5L1061.4,349.5M1070.3,349.6L1070.3,349.6L1070.8,349.6L1071.2,349.7L1071.6,349.7M1080.5,350.7L1080.8,350.8L1081.2,350.9L1081.7,351.1L1081.8,351.1M1090.4,355.6L1090.5,355.7L1090.9,356.0L1091.3,356.3L1091.6,356.5M1099.7,363.9L1099.8,363.9L1100.2,364.2L1100.6,364.5L1100.9,364.6M1109.7,368.1L1109.8,368.2L1110.2,368.4L1110.7,368.7L1110.9,368.9M1118.9,376.4L1119.2,376.7L1119.6,377.2L1120.0,377.7L1120.1,377.8M1127.1,388.7L1127.2,388.8L1127.6,389.4L1128.0,390.1L1128.1,390.3M1136.3,396.9L1136.3,396.9L1136.7,397.1L1137.2,397.3L1137.5,397.5M1145.8,404.0L1145.8,404.0L1146.3,404.4L1146.7,404.9L1147.0,405.1M1155.1,412.6L1155.1,412.6L1155.5,412.9L1155.8,413.3L1156.2,413.6L1156.2,413.6M1164.5,420.3L1164.6,420.3L1165.0,420.6L1165.5,420.9L1165.7,421.1M1173.6,429.2L1174.0,429.7L1174.4,430.2L1174.7,430.7M1181.7,441.7L1182.0,442.3L1182.4,442.9L1182.7,443.4M1189.6,454.6L1189.7,454.8L1190.1,455.5L1190.5,456.2L1190.6,456.3M1197.2,468.2L1197.3,468.4L1197.7,469.1L1198.2,469.8L1198.2,469.9M1205.5,480.0L1205.6,480.2L1206.1,480.7L1206.5,481.2L1206.6,481.3M1214.0,491.3L1214.1,491.5L1214.5,492.1L1215.0,492.7L1215.0,492.8M1222.4,502.8L1222.7,503.1L1223.1,503.6L1223.5,504.1M1231.5,511.8L1231.7,512.0L1232.1,512.2L1232.5,512.5L1232.8,512.6M1241.5,515.1L1241.9,515.2L1242.3,515.2L1242.7,515.2L1242.8,515.2M1251.7,515.1L1251.9,515.2L1252.3,515.2L1252.7,515.4L1253.0,515.4M1261.8,517.9L1262.1,517.9L1262.5,517.9L1262.9,517.9L1263.1,517.9M1272.0,517.1L1272.3,517.1L1272.7,517.2L1273.1,517.3L1273.3,517.3M1282.1,520.3L1282.1,520.3L1282.6,520.4L1283.0,520.5L1283.4,520.6M1292.1,523.5L1292.3,523.6L1292.7,523.8L1293.1,524.1L1293.4,524.3M1301.8,530.0L1302.2,530.1L1302.6,530.2L1303.0,530.4L1303.1,530.4M1311.9,532.7L1312.0,532.7L1312.4,532.8L1312.8,533.0L1313.2,533.1M1322.0,535.3L1322.1,535.3L1322.5,535.3L1322.9,535.3L1323.3,535.2M1332.2,534.6L1332.3,534.6L1332.7,534.6L1333.1,534.7L1333.5,534.7M1342.4,536.0L1342.5,536.0L1342.9,536.0L1343.3,536.1L1343.7,536.1M1352.6,535.6L1352.6,535.6L1353.0,535.5L1353.4,535.4L1353.8,535.2M1362.6,532.0L1362.8,531.9L1363.2,531.8L1363.6,531.7L1363.9,531.7M1372.7,530.0L1372.9,529.9L1373.3,529.9L1373.7,529.8L1374.0,529.8M1382.9,529.5L1383.2,529.5L1383.6,529.6L1384.0,529.6L1384.2,529.7M1393.1,530.7L1393.4,530.7L1393.9,530.7L1394.3,530.7L1394.4,530.7M1403.3,531.5L1403.5,531.5L1403.9,531.6L1404.3,531.7L1404.6,531.8M1413.4,533.8L1413.8,533.8L1414.2,533.8L1414.7,533.9L1414.7,533.9M1423.5,531.6L1423.6,531.5L1424.1,531.2L1424.5,530.8L1424.7,530.7M1432.9,523.7L1432.9,523.7L1433.3,523.4L1433.8,523.0L1434.1,522.8M1442.6,517.7L1442.6,517.7L1443.0,517.6L1443.4,517.5L1443.8,517.4L1443.9,517.4M1452.7,518.6L1453.0,518.8L1453.4,519.1L1453.8,519.3L1454.0,519.5M1462.5,523.4L1462.7,523.4L1463.1,523.2L1463.5,523.1L1463.8,522.9M1472.5,519.7L1472.9,519.8L1473.3,520.0L1473.8,520.2L1473.8,520.2M1482.4,524.5L1482.7,524.5L1483.2,524.5L1483.7,524.6" fill="none" stroke="#ec2d24" stroke-width="6.3" stroke-linecap="round" stroke-linejoin="round"/>
<path d="M136.3,725.5 C139.2,727.3 146.8,732.5 153.6,736.5 C160.4,740.5 170.1,746.2 177.2,749.5 C184.3,752.8 190.8,754.2 196.0,756.5 C201.2,758.8 205.0,760.3 208.7,763.5 C212.4,766.7 214.9,770.8 218.1,775.5 C221.2,780.2 223.9,786.1 227.6,792.0 C231.3,797.9 235.5,804.2 240.2,811.0 C244.9,817.8 250.7,826.6 255.9,833.0 C261.1,839.4 266.4,845.2 271.7,849.5 C276.9,853.8 282.2,857.1 287.4,859.0 C292.6,860.9 297.9,861.4 303.1,860.6 C308.4,859.8 312.3,857.4 318.9,854.3 C325.5,851.1 334.6,845.9 342.5,841.7 C350.4,837.5 360.1,832.0 366.1,829.1 C372.1,826.2 375.0,825.8 378.5,824.4 C382.0,823.0 384.2,821.1 387.0,821.0 C389.8,820.9 392.6,821.8 395.4,823.6 C398.2,825.4 401.3,828.9 403.9,832.0 C406.4,835.1 408.6,838.4 410.7,842.2 C412.8,846.0 414.6,851.0 416.6,854.9 C418.6,858.8 420.4,862.8 422.5,865.9 C424.6,869.0 426.8,871.8 429.3,873.6 C431.9,875.5 435.0,877.4 437.8,877.0 C440.6,876.6 443.5,872.9 446.3,871.0 C449.1,869.1 451.9,867.4 454.7,865.9 C457.5,864.4 460.6,862.7 463.2,861.7 C465.8,860.7 466.9,859.3 470.0,860.0 C473.1,860.7 476.3,864.2 481.7,865.9 C487.1,867.6 495.4,870.0 502.3,870.0 C509.2,870.0 516.7,867.8 522.9,865.9 C529.1,864.0 534.2,860.2 539.3,858.7 C544.4,857.2 548.9,857.8 553.7,856.6 C558.5,855.4 561.2,852.4 568.1,851.5 C575.0,850.6 587.0,851.0 594.9,851.5 C602.8,852.0 608.0,853.4 615.5,854.6 C623.0,855.8 634.5,858.2 640.2,858.7 C646.0,859.2 646.8,858.3 650.0,857.7 C653.2,857.1 656.5,856.7 659.7,855.3 C662.9,853.9 666.2,851.7 669.4,849.4 C672.6,847.1 675.9,844.4 679.1,841.7 C682.3,839.0 685.5,835.9 688.7,833.0 C691.9,830.1 695.2,827.8 698.4,824.3 C701.6,820.8 704.9,816.1 708.1,811.7 C711.3,807.3 714.6,802.8 717.8,798.1 C721.0,793.4 724.3,788.4 727.5,783.6 C730.7,778.8 734.0,774.3 737.2,769.1 C740.4,763.9 743.7,757.8 746.9,752.6 C750.1,747.4 753.4,743.5 756.5,738.0 C759.6,732.5 761.5,724.8 765.4,719.8 C769.3,714.8 775.5,712.1 779.9,707.7 C784.3,703.3 788.0,698.5 792.0,693.2 C796.0,688.0 800.8,681.2 804.1,676.2 C807.4,671.2 809.4,667.3 812.0,663.0 C814.6,658.7 817.0,655.4 820.0,650.4 C823.0,645.4 826.5,637.9 829.7,633.0 C832.9,628.1 836.2,624.9 839.4,621.3 C842.6,617.7 845.8,613.6 849.0,611.6 C852.2,609.6 855.9,609.1 858.7,609.2 C861.5,609.4 863.8,610.5 866.0,612.5 C868.2,614.5 869.7,616.5 872.0,621.0 C874.3,625.5 877.4,633.7 880.0,639.7 C882.6,645.7 885.2,651.4 887.8,657.2 C890.4,663.0 893.4,669.3 895.5,674.6 C897.6,679.9 898.8,687.1 900.4,689.0 C902.0,690.9 903.4,687.6 905.0,686.0 C906.6,684.4 908.3,679.5 910.0,679.4 C911.7,679.3 913.0,681.8 915.0,685.2 C917.0,688.6 919.3,694.7 921.7,699.7 C924.1,704.7 927.0,710.4 929.4,715.2 C931.8,720.0 933.3,722.3 936.2,728.7 C939.1,735.1 942.8,745.9 947.0,753.7 C951.2,761.5 956.2,769.5 961.5,775.5 C966.8,781.5 973.4,785.9 978.5,790.0 C983.6,794.1 987.2,796.0 992.0,800.0 C996.8,804.0 1002.2,809.0 1007.0,813.9 C1011.8,818.8 1016.5,823.6 1020.5,829.2 C1024.5,834.9 1027.3,843.6 1030.7,847.8 C1034.1,852.0 1037.4,852.1 1040.8,854.6 C1044.2,857.1 1047.6,859.0 1051.0,863.0 C1054.4,867.0 1058.1,873.5 1061.2,878.3 C1064.3,883.1 1066.0,888.2 1069.7,891.9 C1073.4,895.6 1078.4,897.5 1083.2,900.3 C1088.0,903.1 1093.1,906.2 1098.5,908.8 C1103.9,911.3 1110.0,915.0 1115.4,915.6 C1120.8,916.2 1126.2,912.5 1130.7,912.2 C1135.2,911.9 1138.8,915.3 1142.5,913.9 C1146.2,912.5 1148.5,906.5 1152.7,903.7 C1157.0,900.9 1162.6,899.4 1168.0,896.9 C1173.4,894.4 1180.4,891.0 1184.9,888.5 C1189.4,886.0 1192.3,884.8 1195.1,881.7 C1197.9,878.6 1198.5,873.5 1201.9,869.8 C1205.3,866.1 1211.2,862.8 1215.4,859.7 C1219.6,856.6 1222.5,854.0 1227.3,851.2 C1232.1,848.4 1238.5,845.2 1244.2,842.7 C1249.9,840.2 1256.9,837.5 1261.2,835.9 C1265.5,834.3 1266.7,834.4 1270.0,833.0 C1273.3,831.6 1276.5,828.9 1281.1,827.3 C1285.7,825.7 1292.5,824.5 1297.7,823.4 C1302.9,822.3 1307.5,822.5 1312.1,820.6 C1316.7,818.7 1320.9,814.6 1325.3,811.8 C1329.7,809.0 1334.0,806.2 1338.6,804.0 C1343.2,801.8 1347.8,800.3 1353.0,798.5 C1358.2,796.7 1364.1,794.9 1369.6,793.0 C1375.1,791.1 1381.2,788.9 1386.2,787.4 C1391.2,785.9 1396.2,786.7 1399.5,784.1 C1402.8,781.5 1403.7,775.0 1406.1,771.9 C1408.5,768.8 1409.8,767.7 1413.9,765.3 C1418.0,762.9 1425.0,760.1 1430.5,757.5 C1436.0,754.9 1441.6,751.8 1447.1,749.8 C1452.6,747.8 1458.2,747.6 1463.7,745.4 C1469.2,743.2 1476.6,737.6 1480.3,736.5 C1484.0,735.4 1484.0,737.2 1485.8,738.7 C1487.6,740.2 1489.4,745.2 1491.3,745.4 C1493.2,745.6 1494.9,741.6 1496.9,739.8 C1498.9,737.9 1502.4,735.2 1503.5,734.3" fill="none" stroke="#3e55ab" stroke-width="6.6" stroke-linecap="round" stroke-linejoin="round"/>
<path d="M136.3,728.3 C139.2,730.1 146.8,735.4 153.6,739.4 C160.4,743.4 170.1,748.6 177.2,752.0 C184.3,755.4 190.8,757.2 196.0,759.8 C201.2,762.4 205.0,764.3 208.7,767.7 C212.4,771.1 214.9,774.8 218.1,780.3 C221.2,785.8 223.9,794.2 227.6,800.7 C231.3,807.2 235.5,812.8 240.2,819.6 C244.9,826.4 251.2,834.9 255.9,841.7 C260.6,848.5 264.6,854.6 268.5,860.6 C272.4,866.6 275.0,874.0 279.5,877.9 C284.0,881.8 290.6,882.9 295.3,884.2 C300.0,885.5 303.2,886.2 307.9,885.7 C312.6,885.2 318.4,883.9 323.6,881.0 C328.9,878.1 333.6,873.6 339.4,868.4 C345.2,863.1 353.1,855.9 358.2,849.5 C363.3,843.1 366.6,835.6 370.0,830.3 C373.4,825.0 375.7,821.4 378.5,817.6 C381.3,813.8 384.2,810.9 387.0,807.5 C389.8,804.1 391.9,800.1 395.4,797.3 C398.9,794.5 403.9,792.8 408.1,790.5 C412.3,788.2 416.6,786.1 420.8,783.7 C425.1,781.3 429.4,778.6 433.6,776.1 C437.9,773.6 441.4,770.9 446.3,768.5 C451.2,766.1 459.0,763.5 463.2,761.7 C467.4,759.9 467.3,760.2 471.4,757.9 C475.5,755.5 482.8,750.4 487.9,747.6 C493.0,744.9 497.2,745.2 502.3,741.4 C507.4,737.6 513.3,730.8 518.8,725.0 C524.3,719.2 529.4,712.6 535.2,706.4 C541.0,700.2 546.8,694.1 553.7,687.9 C560.6,681.7 568.5,675.9 576.4,669.4 C584.3,662.9 592.3,655.4 601.1,648.8 C609.9,642.2 621.2,635.5 629.0,629.6 C636.8,623.7 641.8,619.4 647.9,613.6 C654.0,607.8 660.1,601.0 665.4,594.7 C670.7,588.4 675.1,582.9 679.9,575.9 C684.7,568.9 689.6,561.3 694.4,552.6 C699.2,543.9 704.5,532.4 708.9,523.6 C713.3,514.8 716.2,509.4 720.6,500.0 C725.0,490.6 729.9,479.3 735.0,466.9 C740.1,454.5 746.3,438.1 751.4,425.8 C756.5,413.5 761.3,401.0 765.8,392.8 C770.3,384.6 774.1,382.2 778.2,376.4 C782.3,370.6 787.1,363.7 790.5,357.9 C793.9,352.1 795.4,348.6 798.8,341.4 C802.2,334.2 807.0,324.0 811.1,314.7 C815.2,305.4 819.0,295.1 823.5,285.8 C828.0,276.5 833.4,266.3 837.9,259.1 C842.4,251.9 846.4,245.9 850.2,242.6 C854.0,239.3 857.4,238.8 860.5,239.5 C863.6,240.2 865.6,242.1 868.7,246.7 C871.8,251.3 875.6,259.4 879.0,267.3 C882.4,275.2 885.9,283.8 889.3,294.1 C892.7,304.4 896.9,323.9 899.6,329.0 C902.4,334.1 903.9,326.6 905.8,324.9 C907.7,323.2 909.2,316.4 910.9,318.8 C912.6,321.2 913.4,329.7 916.0,339.3 C918.6,348.9 922.9,364.7 926.3,376.4 C929.7,388.1 933.2,399.0 936.6,409.3 C940.0,419.6 943.5,428.5 946.9,438.1 C950.3,447.7 953.1,457.6 957.2,466.9 C961.3,476.2 966.5,484.8 971.6,493.7 C976.8,502.6 983.0,513.5 988.1,520.4 C993.2,527.3 997.8,530.1 1002.1,534.9 C1006.5,539.7 1010.2,543.8 1014.2,549.4 C1018.2,555.0 1022.3,561.9 1026.3,568.8 C1030.3,575.7 1034.0,584.1 1038.4,590.6 C1042.9,597.1 1047.8,601.0 1053.0,607.5 C1058.2,614.0 1064.2,621.6 1069.9,629.3 C1075.6,637.0 1082.1,648.2 1086.9,653.5 C1091.8,658.8 1094.2,658.4 1099.0,660.8 C1103.8,663.2 1109.9,665.6 1115.9,668.0 C1122.0,670.4 1128.8,673.9 1135.3,675.3 C1141.8,676.7 1148.1,677.3 1154.6,676.5 C1161.0,675.7 1167.1,672.3 1174.0,670.5 C1180.9,668.7 1188.1,668.2 1195.8,665.6 C1203.5,663.0 1211.9,657.9 1220.0,654.7 C1228.1,651.5 1236.1,649.2 1244.2,646.2 C1252.3,643.2 1261.8,638.9 1268.5,636.6 C1275.2,634.3 1279.4,632.9 1284.5,632.5 C1289.6,632.1 1294.6,634.2 1299.0,634.0 C1303.4,633.8 1307.1,630.9 1310.7,631.1 C1314.3,631.3 1317.4,635.6 1320.8,635.4 C1324.2,635.1 1326.2,630.6 1331.0,629.6 C1335.8,628.6 1343.1,629.2 1349.9,629.6 C1356.7,630.0 1366.4,631.9 1371.7,631.8 C1377.0,631.7 1378.4,629.2 1381.8,629.0 C1385.2,628.8 1388.9,629.4 1392.0,630.5 C1395.1,631.6 1398.2,633.6 1400.2,635.6 C1402.2,637.6 1402.9,639.6 1404.2,642.8 C1405.5,646.0 1407.1,651.6 1408.3,655.0 C1409.5,658.4 1409.9,661.6 1411.4,663.1 C1412.9,664.6 1415.3,664.3 1417.5,664.2 C1419.7,664.1 1422.6,663.7 1424.6,662.5 C1426.6,661.3 1425.0,658.1 1429.7,657.0 C1434.5,655.9 1447.5,655.6 1453.1,656.0 C1458.7,656.4 1458.2,657.7 1463.3,659.1 C1468.4,660.5 1476.9,663.4 1483.7,664.2 C1490.5,665.1 1500.6,664.2 1504.0,664.2" fill="none" stroke="#ec2d24" stroke-width="6.6" stroke-linecap="round" stroke-linejoin="round"/>
<rect x="219.1" y="94.6" width="5.2" height="983" fill="#0a0a0a"/>
<rect x="276.4" y="94.6" width="5.0" height="981" fill="#0a0a0a"/>
<rect x="601.6" y="92" width="3.8" height="980" fill="#7a7a7a" opacity="0.75"/>
<rect x="224.3" y="96" width="2.4" height="980" fill="#9a9a9a" opacity="0.35"/>
<rect x="274.2" y="96" width="2.2" height="978" fill="#8a8a8a" opacity="0.6"/>
<rect x="605.3" y="90.4" width="4.6" height="982" fill="#0a0a0a"/>
<rect x="556.4" y="91.4" width="42.5" height="985.5" fill="url(#rectg)" stroke="#6b9bd7" stroke-width="2.4"/>
<text x="17.5" y="53.2" font-size="45.5" text-anchor="start" font-weight="bold">A</text>
<text x="65.5" y="42.0" font-size="46.0" text-anchor="start" font-weight="normal" textLength="227.0" lengthAdjust="spacingAndGlyphs">precue cue</text>
<text x="362.0" y="41.0" font-size="47.0" text-anchor="start" font-weight="normal" textLength="111.5" lengthAdjust="spacingAndGlyphs">delay</text>
<text x="618.0" y="46.5" font-size="48.0" text-anchor="start" font-weight="normal" textLength="461.0" lengthAdjust="spacingAndGlyphs">probe (offset variable)</text>
<text transform="translate(30.0,592.4) rotate(-90)" font-size="35.5" font-weight="bold" text-anchor="middle" textLength="336" lengthAdjust="spacingAndGlyphs">% DIAMETER CHANGE</text>
<text x="741.0" y="1122.0" font-size="31.0" text-anchor="start" font-weight="bold" textLength="156.0" lengthAdjust="spacingAndGlyphs">TIME (MS)</text>
<line x1="1562" y1="520.0" x2="1661" y2="520.0" stroke="#3e55ab" stroke-width="7"/>
<text x="1669.0" y="537.0" font-size="33.0" text-anchor="start" font-weight="normal" textLength="317.0" lengthAdjust="spacingAndGlyphs">NON-INCENTIVE FAST</text>
<line x1="1563" y1="586.3" x2="1660" y2="586.3" stroke="#3e55ab" stroke-width="7" stroke-dasharray="7 7.6"/>
<text x="1669.0" y="603.3" font-size="33.0" text-anchor="start" font-weight="normal" textLength="335.0" lengthAdjust="spacingAndGlyphs">NON-INCENTIVE SLOW</text>
<line x1="1562" y1="652.2" x2="1661" y2="652.2" stroke="#ec2d24" stroke-width="7"/>
<text x="1669.0" y="669.2" font-size="33.0" text-anchor="start" font-weight="normal" textLength="235.0" lengthAdjust="spacingAndGlyphs">INCENTIVE FAST</text>
<line x1="1563" y1="718.0" x2="1660" y2="718.0" stroke="#ec2d24" stroke-width="7" stroke-dasharray="7 7.6"/>
<text x="1669.0" y="735.0" font-size="33.0" text-anchor="start" font-weight="normal" textLength="252.0" lengthAdjust="spacingAndGlyphs">INCENTIVE SLOW</text>
<g filter="url(#ashadow)" stroke="#5a8fd1" stroke-width="5.5" fill="none" stroke-linecap="butt"><line x1="603" y1="1076.6" x2="1424" y2="1317.4"/><polyline points="1402,1294.5 1423.5,1316.5 1393.5,1322.5" stroke-linejoin="round"/></g>
<line x1="1535" y1="1295.6" x2="2167.5" y2="1295.6" stroke="#9c9c9c" stroke-width="2.3"/>
<line x1="1535" y1="1343.9" x2="2167.5" y2="1343.9" stroke="#9c9c9c" stroke-width="2.3"/>
<line x1="1535" y1="1392.2" x2="2167.5" y2="1392.2" stroke="#9c9c9c" stroke-width="2.3"/>
<line x1="1535" y1="1440.5" x2="2167.5" y2="1440.5" stroke="#9c9c9c" stroke-width="2.3"/>
<line x1="1535" y1="1488.8" x2="2167.5" y2="1488.8" stroke="#9c9c9c" stroke-width="2.3"/>
<line x1="1535" y1="1537.1" x2="2167.5" y2="1537.1" stroke="#9c9c9c" stroke-width="2.3"/>
<line x1="1535" y1="1585.4" x2="2167.5" y2="1585.4" stroke="#9c9c9c" stroke-width="2.3"/>
<line x1="1535" y1="1633.7" x2="2167.5" y2="1633.7" stroke="#9c9c9c" stroke-width="2.3"/>
<line x1="1535" y1="1682.0" x2="2167.5" y2="1682.0" stroke="#9c9c9c" stroke-width="2.3"/>
<line x1="1535" y1="1730.3" x2="2167.5" y2="1730.3" stroke="#9c9c9c" stroke-width="2.3"/>
<line x1="1535" y1="1778.6" x2="2167.5" y2="1778.6" stroke="#9c9c9c" stroke-width="2.3"/>
<line x1="1546.0" y1="1295.6" x2="1546.0" y2="1778.6" stroke="#b2b2b2" stroke-width="2.2"/>
<line x1="1856.4" y1="1392.2" x2="1856.4" y2="1403.2" stroke="#9c9c9c" stroke-width="2"/>
<line x1="2167.0" y1="1392.2" x2="2167.0" y2="1403.2" stroke="#9c9c9c" stroke-width="2"/>
<text x="1511.0" y="1312.1" font-size="31.5" text-anchor="end" font-weight="normal">1</text>
<text x="1511.0" y="1360.4" font-size="31.5" text-anchor="end" font-weight="normal">0.5</text>
<text x="1511.0" y="1408.7" font-size="31.5" text-anchor="end" font-weight="normal">0</text>
<text x="1511.0" y="1457.0" font-size="31.5" text-anchor="end" font-weight="normal">-0.5</text>
<text x="1511.0" y="1505.3" font-size="31.5" text-anchor="end" font-weight="normal">-1</text>
<text x="1511.0" y="1553.6" font-size="31.5" text-anchor="end" font-weight="normal">-1.5</text>
<text x="1511.0" y="1601.9" font-size="31.5" text-anchor="end" font-weight="normal">-2</text>
<text x="1511.0" y="1650.2" font-size="31.5" text-anchor="end" font-weight="normal">-2.5</text>
<text x="1511.0" y="1698.5" font-size="31.5" text-anchor="end" font-weight="normal">-3</text>
<text x="1511.0" y="1746.8" font-size="31.5" text-anchor="end" font-weight="normal">-3.5</text>
<text x="1511.0" y="1795.1" font-size="31.5" text-anchor="end" font-weight="normal">-4</text>
<g filter="url(#blur3)"><rect x="1612.3" y="1397.2" width="88.7" height="229.4" fill="#000" opacity="0.3"/><rect x="1701.0" y="1367.3" width="88.2" height="29.9" fill="#000" opacity="0.3"/><rect x="1923.6" y="1397.2" width="89.0" height="268.5" fill="#000" opacity="0.3"/><rect x="2012.6" y="1397.2" width="88.3" height="79.7" fill="#000" opacity="0.3"/></g>
<rect x="1612.3" y="1392.2" width="88.7" height="229.4" fill="url(#bblue)"/>
<rect x="1701.0" y="1362.3" width="88.2" height="29.9" fill="url(#bred)"/>
<rect x="1923.6" y="1392.2" width="89.0" height="268.5" fill="url(#bblue)"/>
<rect x="2012.6" y="1392.2" width="88.3" height="79.7" fill="url(#bred)"/>
<line x1="1657.3" y1="1621.6" x2="1657.3" y2="1717.7" stroke="#111" stroke-width="2.2"/><line x1="1648.8" y1="1717.7" x2="1665.8" y2="1717.7" stroke="#222" stroke-width="2.6"/>
<line x1="1745.9" y1="1362.6" x2="1745.9" y2="1458.8" stroke="#111" stroke-width="2.2"/><line x1="1737.4" y1="1458.8" x2="1754.4" y2="1458.8" stroke="#222" stroke-width="2.6"/>
<line x1="1968.0" y1="1660.8" x2="1968.0" y2="1757.2" stroke="#111" stroke-width="2.2"/><line x1="1959.5" y1="1757.2" x2="1976.5" y2="1757.2" stroke="#222" stroke-width="2.6"/>
<line x1="2056.5" y1="1471.9" x2="2056.5" y2="1569.2" stroke="#111" stroke-width="2.2"/><line x1="2048.0" y1="1569.2" x2="2065.0" y2="1569.2" stroke="#222" stroke-width="2.6"/>
<text x="1664.5" y="1463.4" font-size="31.0" text-anchor="start" font-weight="normal" textLength="68.5" lengthAdjust="spacingAndGlyphs">FAST</text>
<text x="1967.0" y="1463.5" font-size="31.0" text-anchor="start" font-weight="normal" textLength="88.0" lengthAdjust="spacingAndGlyphs">SLOW</text>
<text x="1398.5" y="1269.2" font-size="45.0" text-anchor="start" font-weight="bold">B</text>
<text x="1718.0" y="1821.5" font-size="31.5" text-anchor="start" font-weight="bold" textLength="280.0" lengthAdjust="spacingAndGlyphs">INCENTIVE STATUS</text>
<text transform="translate(1419.4,1538.7) rotate(-90)" font-size="33" font-weight="bold" text-anchor="middle" textLength="431" lengthAdjust="spacingAndGlyphs">% PUPIL DIAMETER CHANGE</text>
<rect x="2225.6" y="1522.3" width="21" height="19.5" fill="url(#bblue)"/>
<rect x="2225.6" y="1587.9" width="21" height="19.7" fill="url(#bred)"/>
<text x="2256.0" y="1548.1" font-size="32.7" text-anchor="start" font-weight="normal" textLength="239.0" lengthAdjust="spacingAndGlyphs">NON-INCENTIVE</text>
<text x="2256.0" y="1613.9" font-size="32.7" text-anchor="start" font-weight="normal" textLength="157.0" lengthAdjust="spacingAndGlyphs">INCENTIVE</text>
</svg></body></html>
